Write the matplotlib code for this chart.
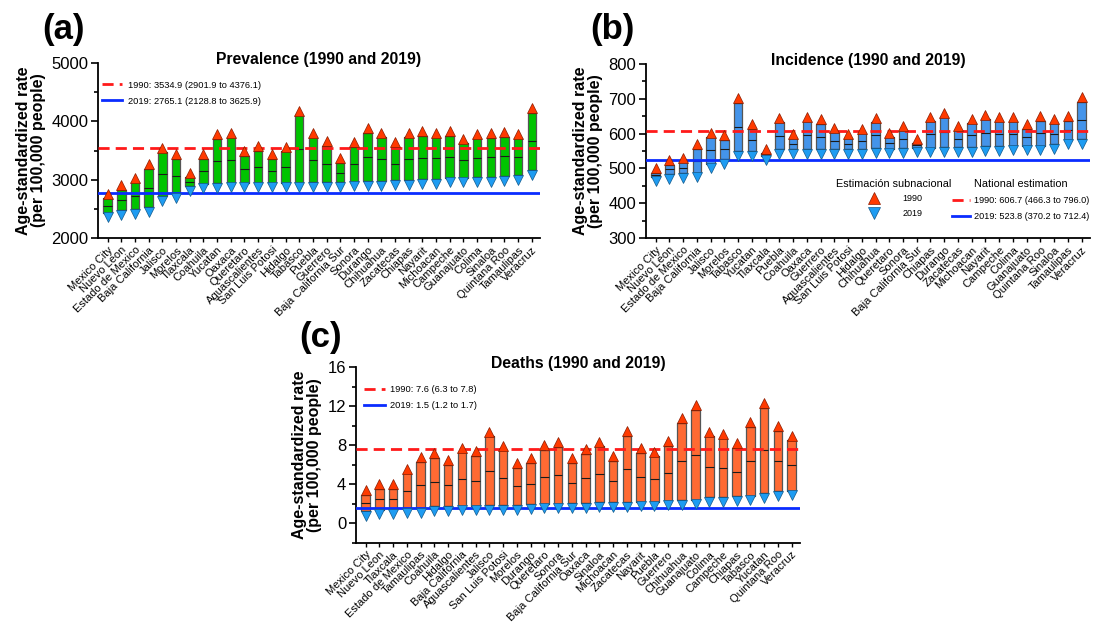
import numpy as np
import matplotlib.pyplot as plt
from matplotlib import transforms
from matplotlib.ticker import MultipleLocator
from matplotlib.lines import Line2D

plt.rcParams['font.family'] = ['Liberation Sans', 'DejaVu Sans']

# (a) prevalence
states_a = ["Mexico City", "Nuevo Leon", "Estado de Mexico", "Baja California", "Jalisco",
            "Morelos", "Tlaxcala", "Coahuila", "Yucatan", "Oaxaca", "Queretaro",
            "Aguascalientes", "San Luis Potosi", "Hidalgo", "Tabasco", "Puebla", "Guerrero",
            "Baja California Sur", "Sonora", "Durango", "Chihuahua", "Zacatecas", "Chiapas",
            "Nayarit", "Michoacan", "Campeche", "Guanajuato", "Colima", "Sinaloa",
            "Quintana Roo", "Tamaulipas", "Veracruz"]
prev_1990 = [2680, 2830, 2955, 3185, 3470, 3355, 3040, 3360, 3700, 3730, 3410, 3500,
             3355, 3490, 4105, 3730, 3580, 3285, 3560, 3808, 3730, 3560, 3730, 3750,
             3730, 3750, 3625, 3710, 3720, 3740, 3710, 4145]
prev_2019 = [2430, 2475, 2497, 2530, 2714, 2760, 2886, 2930, 2943, 2945, 2945, 2945,
             2945, 2946, 2948, 2952, 2955, 2960, 2965, 2970, 2977, 2988, 2995, 3006,
             3012, 3032, 3035, 3040, 3045, 3055, 3080, 3166]
nat_a = [3534.9, 2765.1]
nat_a_labels = ["1990: 3534.9 (2901.9 to 4376.1)", "2019: 2765.1 (2128.8 to 3625.9)"]

# (b) incidence
states_b = ["Mexico City", "Nuevo Leon", "Estado de Mexico", "Baja California", "Jalisco",
            "Morelos", "Tabasco", "Yucatan", "Tlaxcala", "Puebla", "Coahuila", "Oaxaca",
            "Guerrero", "Aguascalientes", "San Luis Potosi", "Hidalgo", "Chihuahua",
            "Queretaro", "Sonora", "Baja California Sur", "Chiapas", "Durango", "Zacatecas",
            "Michoacan", "Nayarit", "Campeche", "Colima", "Guanajuato", "Quintana Roo",
            "Sinaloa", "Tamaulipas", "Veracruz"]
inc_1990 = [487, 510, 518, 557, 590, 582, 689, 614, 543, 632, 587, 635, 628, 604, 586,
            601, 632, 590, 609, 572, 635, 647, 609, 630, 641, 635, 635, 614, 637, 630,
            637, 692]
inc_2019 = [476, 484, 486, 488, 513, 527, 549, 549, 537, 555, 555, 555, 555, 556, 556,
            556, 558, 557, 558, 560, 560, 561, 561, 561, 563, 563, 565, 565, 565, 570,
            582, 584]
nat_b = [606.7, 523.8]
nat_b_labels = ["1990: 606.7 (466.3 to 796.0)", "2019: 523.8 (370.2 to 712.4)"]

# (c) deaths
states_c = ["Mexico City", "Nuevo Leon", "Tlaxcala", "Estado de Mexico", "Tamaulipas",
            "Coahuila", "Hidalgo", "Baja California", "Aguascalientes", "Jalisco",
            "San Luis Potosi", "Morelos", "Durango", "Queretaro", "Sonora",
            "Baja California Sur", "Oaxaca", "Sinaloa", "Michoacan", "Zacatecas", "Nayarit",
            "Puebla", "Guerrero", "Chihuahua", "Guanajuato", "Colima", "Campeche", "Chiapas",
            "Tabasco", "Yucatan", "Quintana Roo", "Veracruz"]
death_1990 = [2.9, 3.5, 3.5, 5.1, 6.3, 6.7, 6.0, 7.25, 6.9, 8.9, 7.45, 5.65, 6.15, 7.5,
              7.8, 6.15, 7.1, 7.85, 6.4, 8.95, 7.2, 6.85, 7.9, 10.3, 11.6, 8.9, 8.7, 7.7,
              9.9, 11.8, 9.45, 8.5]
death_2019 = [1.2, 1.35, 1.35, 1.5, 1.5, 1.7, 1.7, 1.78, 1.78, 1.8, 1.85, 1.85, 1.9, 2.0,
              2.0, 2.05, 2.05, 2.15, 2.15, 2.15, 2.2, 2.2, 2.3, 2.32, 2.4, 2.63, 2.67, 2.73,
              2.8, 3.08, 3.25, 3.3]
nat_c = [7.6, 1.5]
nat_c_labels = ["1990: 7.6 (6.3 to 7.8)", "2019: 1.5 (1.2 to 1.7)"]

UP_COL = '#ff3a00'
DOWN_COL = '#1e9cf2'
RED = '#ff1a1a'
BLUE = '#0a2cff'


def draw_panel(ax, states, v1990, v2019, color, title, nat, nat_labels):
    x = np.arange(len(states))
    hi = np.array(v1990)
    lo = np.array(v2019)
    ax.bar(x, hi - lo, bottom=lo, width=0.62, color=color, edgecolor='#555555',
           linewidth=0.9, zorder=2)
    for yy in [hi, lo, (hi + lo) / 2]:
        ax.hlines(yy, x - 0.31, x + 0.31, color='#1a1a1a', lw=0.8, zorder=2.5)
    l1 = ax.axhline(nat[0], color=RED, lw=2, ls=(0, (4, 2.2)), zorder=3, label=nat_labels[0])
    l2 = ax.axhline(nat[1], color=BLUE, lw=2, zorder=3, label=nat_labels[1])
    up = transforms.offset_copy(ax.transData, fig=ax.figure, y=3.3, units='points')
    dn = transforms.offset_copy(ax.transData, fig=ax.figure, y=-3.3, units='points')
    ax.plot(x, hi, ls='none', marker='^', ms=7, mfc=UP_COL, mec='#8a1c00', mew=0.5,
            transform=up, zorder=4)
    ax.plot(x, lo, ls='none', marker='v', ms=7, mfc=DOWN_COL, mec='#145a8c', mew=0.5,
            transform=dn, zorder=4)

    ax.set_xlim(-0.7, len(states) - 0.4)
    ax.set_xticks(x)
    ax.set_xticklabels(states, rotation=45, ha='right', va='top', rotation_mode='anchor',
                       fontsize=8)
    ax.tick_params(axis='x', length=3, width=1, pad=2)
    ax.tick_params(axis='y', which='major', length=5, width=1.2, labelsize=12, pad=2)
    ax.tick_params(axis='y', which='minor', length=3, width=1.2)
    for s in ['top', 'right']:
        ax.spines[s].set_visible(False)
    for s in ['left', 'bottom']:
        ax.spines[s].set_linewidth(1.3)
    ax.set_ylabel("Age-standardized rate\n(per 100,000 people)", fontsize=11.5,
                  fontweight='bold', labelpad=4, linespacing=1.0)
    ax.text(0.5, 1.02, title, transform=ax.transAxes, ha='center', va='center',
            fontsize=11.3, fontweight='bold')
    return l1, l2


fig = plt.figure(figsize=(10.93, 6.24), dpi=100)

ax_a = fig.add_axes([0.0897, 0.6186, 0.4044, 0.2804])
ax_b = fig.add_axes([0.591, 0.6186, 0.4062, 0.2788])
ax_c = fig.add_axes([0.3257, 0.1306, 0.4062, 0.2812])

draw_panel(ax_a, states_a, prev_1990, prev_2019, '#00c400',
           "Prevalence (1990 and 2019)", nat_a, nat_a_labels)
ax_a.set_ylim(2000, 5000)
ax_a.yaxis.set_major_locator(MultipleLocator(1000))
ax_a.yaxis.set_minor_locator(MultipleLocator(500))
ax_a.legend(loc='upper left', bbox_to_anchor=(0.0, 0.92), frameon=False, fontsize=6.7,
            handlelength=2.2, handletextpad=0.6, labelspacing=0.75, borderaxespad=0)

lb1, lb2 = draw_panel(ax_b, states_b, inc_1990, inc_2019, '#4494ea',
                      "Incidence (1990 and 2019)", nat_b, nat_b_labels)
ax_b.set_ylim(300, 800)
ax_b.yaxis.set_major_locator(MultipleLocator(100))
ax_b.yaxis.set_minor_locator(MultipleLocator(50))
h_up = Line2D([], [], ls='none', marker='^', ms=9, mfc=UP_COL, mec='#8a1c00', mew=0.5, label='1990')
h_dn = Line2D([], [], ls='none', marker='v', ms=9, mfc=DOWN_COL, mec='#145a8c', mew=0.5, label='2019')
leg1 = ax_b.legend(handles=[h_up, h_dn], title="Estimación subnacional", loc='upper left',
                   bbox_to_anchor=(0.42, 0.36), frameon=False, fontsize=6.5, title_fontsize=7.8,
                   handletextpad=2.2, labelspacing=0.6, borderaxespad=0)
ax_b.add_artist(leg1)
ax_b.legend(handles=[lb1, lb2], title="National estimation", loc='upper left',
            bbox_to_anchor=(0.68, 0.36), frameon=False, fontsize=6.6, title_fontsize=7.8,
            handlelength=2.0, handletextpad=0.5, labelspacing=0.75, borderaxespad=0)

draw_panel(ax_c, states_c, death_1990, death_2019, '#ff6a33',
           "Deaths (1990 and 2019)", nat_c, nat_c_labels)
ax_c.set_ylim(-2, 16)
ax_c.set_yticks([0, 4, 8, 12, 16])
ax_c.yaxis.set_minor_locator(MultipleLocator(2))
ax_c.legend(loc='upper left', bbox_to_anchor=(0.01, 0.92), frameon=False, fontsize=6.7,
            handlelength=2.2, handletextpad=0.6, labelspacing=0.75, borderaxespad=0)

fig.text(64 / 1093, 1 - 30 / 624, "(a)", fontsize=25, fontweight='bold', ha='center', va='center')
fig.text(612 / 1093, 1 - 30 / 624, "(b)", fontsize=25, fontweight='bold', ha='center', va='center')
fig.text(321 / 1093, 1 - 337 / 624, "(c)", fontsize=25, fontweight='bold', ha='center', va='center')

fig.savefig("out.png", dpi=100)
